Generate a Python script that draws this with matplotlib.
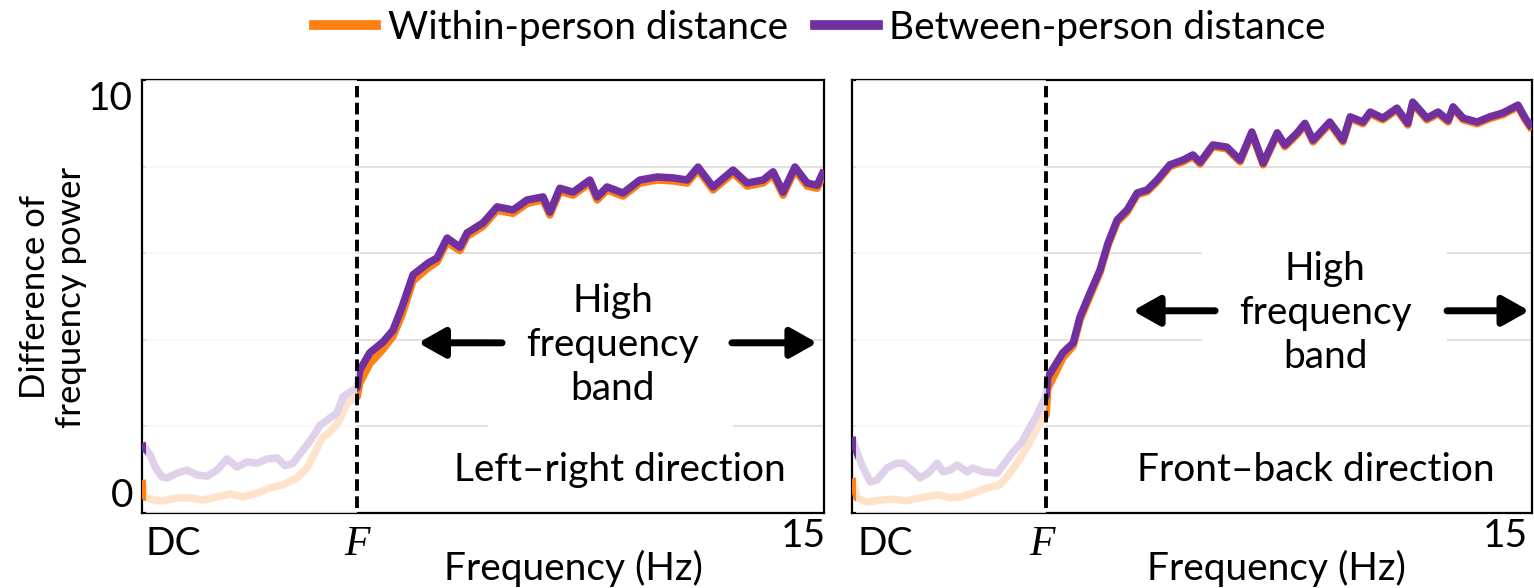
import matplotlib
matplotlib.use("Agg")
import matplotlib.pyplot as plt
from matplotlib.patches import Rectangle
from matplotlib.lines import Line2D

plt.rcParams['font.family'] = ['Lato', 'DejaVu Sans']

# ---------------- data ----------------
series_names = ["Within-person distance", "Between-person distance"]
panel_titles = ["Left\u2013right direction", "Front\u2013back direction"]
band_label = "High\nfrequency\nband"
x_tick_labels = ["DC", "F", "15"]
y_tick_labels = ["0", "10"]

# cut-off frequency F (Hz) on each panel
lr_cutoff = 4.73
fb_cutoff = 4.28

# Left-right panel
lr_between_pre_hz = [0.00, 0.18, 0.29, 0.44, 0.55, 0.77, 0.99, 1.21, 1.43, 1.65,
                     1.87, 2.09, 2.31, 2.53, 2.75, 2.97, 3.15, 3.32, 3.54, 3.76,
                     3.92, 4.13, 4.29, 4.42, 4.57, 4.73]
lr_between_pre = [1.60, 1.34, 1.06, 0.83, 0.81, 0.92, 0.99, 0.88, 0.85, 0.99,
                  1.25, 1.06, 1.18, 1.15, 1.25, 1.27, 1.09, 1.15, 1.45, 1.76,
                  2.03, 2.19, 2.31, 2.68, 2.79, 2.89]
lr_within_pre_hz = [0.00, 0.07, 0.24, 0.46, 0.77, 1.06, 1.34, 1.65, 1.94, 2.22,
                    2.53, 2.82, 3.10, 3.41, 3.63, 3.80, 3.96, 4.13, 4.31, 4.51, 4.73]
lr_within_pre = [0.76, 0.37, 0.30, 0.28, 0.35, 0.35, 0.30, 0.37, 0.44, 0.37,
                 0.46, 0.58, 0.65, 0.81, 1.04, 1.39, 1.73, 1.87, 2.08, 2.54, 2.68]
lr_post_hz = [4.79, 5.01, 5.30, 5.52, 5.72, 5.96, 6.29, 6.49, 6.71, 6.99,
              7.15, 7.50, 7.81, 8.16, 8.47, 8.82, 8.97, 9.19, 9.48, 9.85,
              10.01, 10.23, 10.58, 10.95, 11.33, 11.68, 11.99, 12.23, 12.56, 13.00,
              13.31, 13.66, 13.88, 14.10, 14.36, 14.63, 14.85, 15.00]
lr_between_post = [3.30, 3.70, 3.95, 4.22, 4.76, 5.50, 5.77, 5.89, 6.35, 6.14,
                   6.47, 6.70, 7.07, 7.00, 7.23, 7.30, 6.95, 7.50, 7.41, 7.69,
                   7.30, 7.53, 7.39, 7.69, 7.76, 7.74, 7.69, 7.99, 7.53, 7.92,
                   7.62, 7.69, 7.88, 7.41, 7.99, 7.62, 7.57, 7.92]
lr_within_post = [3.00, 3.45, 3.78, 4.08, 4.58, 5.36, 5.66, 5.80, 6.26, 6.06,
                  6.39, 6.62, 6.99, 6.92, 7.15, 7.23, 6.88, 7.43, 7.34, 7.62,
                  7.23, 7.46, 7.32, 7.62, 7.69, 7.67, 7.62, 7.92, 7.46, 7.85,
                  7.55, 7.62, 7.81, 7.34, 7.92, 7.55, 7.50, 7.85]

# Front-back panel
fb_between_pre_hz = [0.00, 0.13, 0.24, 0.40, 0.55, 0.77, 0.99, 1.13, 1.32, 1.50,
                     1.68, 1.88, 2.01, 2.16, 2.32, 2.54, 2.67, 2.89, 3.20, 3.37,
                     3.55, 3.75, 3.93, 4.08, 4.21, 4.28]
fb_between_pre = [1.75, 1.34, 1.06, 0.72, 0.76, 1.04, 1.15, 1.15, 0.99, 0.81,
                  0.92, 1.15, 0.95, 0.99, 1.11, 0.95, 1.04, 0.95, 0.92, 1.15,
                  1.41, 1.64, 1.99, 2.26, 2.56, 2.70]
fb_within_pre_hz = [0.00, 0.11, 0.33, 0.62, 0.90, 1.21, 1.50, 1.72, 1.90, 2.16,
                    2.38, 2.67, 2.98, 3.26, 3.42, 3.64, 3.86, 4.04, 4.19, 4.28]
fb_within_pre = [0.80, 0.35, 0.25, 0.30, 0.32, 0.28, 0.35, 0.39, 0.42, 0.35,
                 0.37, 0.46, 0.58, 0.65, 0.83, 1.15, 1.52, 1.87, 2.15, 2.26]
fb_post_hz = [4.32, 4.65, 4.88, 5.03, 5.25, 5.47, 5.65, 5.85, 6.07, 6.29,
              6.51, 6.73, 7.01, 7.30, 7.52, 7.68, 7.96, 8.27, 8.56, 8.82,
              9.07, 9.38, 9.55, 9.82, 9.99, 10.17, 10.54, 10.83, 10.99, 11.27,
              11.43, 11.71, 12.02, 12.26, 12.37, 12.68, 12.93, 13.15, 13.26, 13.48,
              13.79, 14.07, 14.36, 14.69, 14.85, 15.00]
fb_between_post = [3.14, 3.70, 3.93, 4.53, 5.08, 5.61, 6.24, 6.77, 7.00, 7.39,
                   7.46, 7.69, 8.04, 8.15, 8.27, 8.10, 8.50, 8.45, 8.15, 8.80,
                   8.08, 8.78, 8.50, 8.78, 9.00, 8.61, 9.03, 8.61, 9.15, 9.03,
                   9.26, 9.12, 9.35, 9.00, 9.49, 9.12, 9.26, 9.07, 9.38, 9.12,
                   9.03, 9.15, 9.24, 9.42, 9.12, 8.89]
fb_within_post = [2.88, 3.58, 3.86, 4.46, 5.01, 5.55, 6.19, 6.72, 6.95, 7.35,
                  7.42, 7.65, 8.00, 8.11, 8.23, 8.06, 8.46, 8.41, 8.11, 8.76,
                  8.04, 8.74, 8.46, 8.74, 8.96, 8.57, 8.99, 8.57, 9.11, 8.99,
                  9.22, 9.08, 9.31, 8.96, 9.45, 9.08, 9.22, 9.03, 9.34, 9.08,
                  8.99, 9.11, 9.20, 9.38, 9.08, 8.85]

grid_levels = [2, 4, 6, 8]
y_max = 10
x_max = 15

# ---------------- style ----------------
ORANGE = '#FF7F11'
PURPLE = '#7030A0'
GRID = '#D9D9D9'
FS = 28
W, H = 1534, 588


def fx(x):
    return x / W


def fy(y):
    return 1 - y / H


fig = plt.figure(figsize=(W / 100, H / 100), dpi=100)

panels = [
    dict(rect=[fx(142), fy(513), 682 / W, 433 / H],
         bw_x=lr_between_pre_hz + lr_post_hz, bw_y=lr_between_pre + lr_between_post,
         wi_x=lr_within_pre_hz + lr_post_hz, wi_y=lr_within_pre + lr_within_post,
         F=lr_cutoff, title=panel_titles[0],
         box=(0.507, 0.18, 0.36, 0.37), band_xy=(0.69, 0.388),
         arrow_y=0.393, larrow=(0.528, 0.405), rarrow=(0.865, 0.990),
         title_xy=(0.70, 0.10),
         dc=173, fpos=357, p15=803, flabel=573),
    dict(rect=[fx(852), fy(513), 680 / W, 433 / H],
         bw_x=fb_between_pre_hz + fb_post_hz, bw_y=fb_between_pre + fb_between_post,
         wi_x=fb_within_pre_hz + fb_post_hz, wi_y=fb_within_pre + fb_within_post,
         F=fb_cutoff, title=panel_titles[1],
         box=(0.515, 0.26, 0.36, 0.37), band_xy=(0.696, 0.462),
         arrow_y=0.467, larrow=(0.534, 0.413), rarrow=(0.875, 0.996),
         title_xy=(0.682, 0.10),
         dc=885, fpos=1042, p15=1505, flabel=1276),
]

for p in panels:
    ax = fig.add_axes(p['rect'])
    ax.set_xlim(0, x_max)
    ax.set_ylim(0, y_max)
    ax.set_yticks(grid_levels)
    ax.set_xticks([])
    ax.tick_params(length=0, labelleft=False, labelbottom=False)
    ax.yaxis.grid(True, color=GRID, lw=1.1)
    ax.set_axisbelow(True)
    for s in ax.spines.values():
        s.set_linewidth(1.6)
        s.set_color('black')

    # white box behind the band label
    bx, by, bwd, bht = p['box']
    ax.add_patch(Rectangle((bx, by), bwd, bht, transform=ax.transAxes,
                           facecolor='white', edgecolor='none', zorder=1))

    ax.plot(p['wi_x'], p['wi_y'], color=ORANGE, lw=5.4, zorder=3,
            solid_joinstyle='round', solid_capstyle='butt')
    ax.plot(p['bw_x'], p['bw_y'], color=PURPLE, lw=5.4, zorder=4,
            solid_joinstyle='round', solid_capstyle='butt')

    # faded low-frequency region
    F = p['F']
    ax.add_patch(Rectangle((0.08, 0), F - 0.08, y_max, facecolor='white',
                           alpha=0.78, edgecolor='none', zorder=5))
    ax.plot([F, F], [0.12, 9.87], color='black', lw=2.8, dashes=(3.0, 1.4),
            zorder=6, dash_capstyle='butt')

    ax.text(*p['band_xy'], band_label, transform=ax.transAxes, ha='center',
            va='center', fontsize=FS, linespacing=1.28, zorder=7)
    ax.text(*p['title_xy'], p['title'], transform=ax.transAxes, ha='center',
            va='center', fontsize=FS, zorder=7)

    for tail, head in [p['larrow'], p['rarrow']]:
        ax.annotate('', xy=(head, p['arrow_y']), xytext=(tail, p['arrow_y']),
                    xycoords='axes fraction', textcoords='axes fraction',
                    arrowprops=dict(arrowstyle='-|>,head_length=0.8,head_width=0.45',
                                    lw=5, color='black', shrinkA=0, shrinkB=0,
                                    mutation_scale=20), zorder=7)

    # x-axis labels
    fig.text(fx(p['dc']), fy(555), x_tick_labels[0], ha='center', va='baseline', fontsize=FS)
    fig.text(fx(p['fpos']), fy(555), x_tick_labels[1], ha='center', va='baseline',
             fontsize=30, family='Liberation Serif', style='italic')
    fig.text(fx(p['p15']), fy(547), x_tick_labels[2], ha='center', va='baseline', fontsize=FS)
    fig.text(fx(p['flabel']), fy(580), "Frequency (Hz)", ha='center', va='baseline', fontsize=FS)

# y tick labels and y label (left panel only)
fig.text(fx(133), fy(507), y_tick_labels[0], ha='right', va='baseline', fontsize=FS)
fig.text(fx(133), fy(110), y_tick_labels[1], ha='right', va='baseline', fontsize=FS)
fig.text(fx(53), fy(297), "Difference of\nfrequency power", rotation=90,
         ha='center', va='center', fontsize=25, linespacing=1.15)

# legend
handles = [Line2D([], [], color=ORANGE, lw=7), Line2D([], [], color=PURPLE, lw=7)]
fig.legend(handles, series_names, loc='center', bbox_to_anchor=(fx(820), fy(28)),
           ncol=2, frameon=False, fontsize=FS, handlelength=1.6,
           handletextpad=0.3, columnspacing=0.7, borderpad=0, borderaxespad=0)

fig.savefig('out.png', dpi=100)
